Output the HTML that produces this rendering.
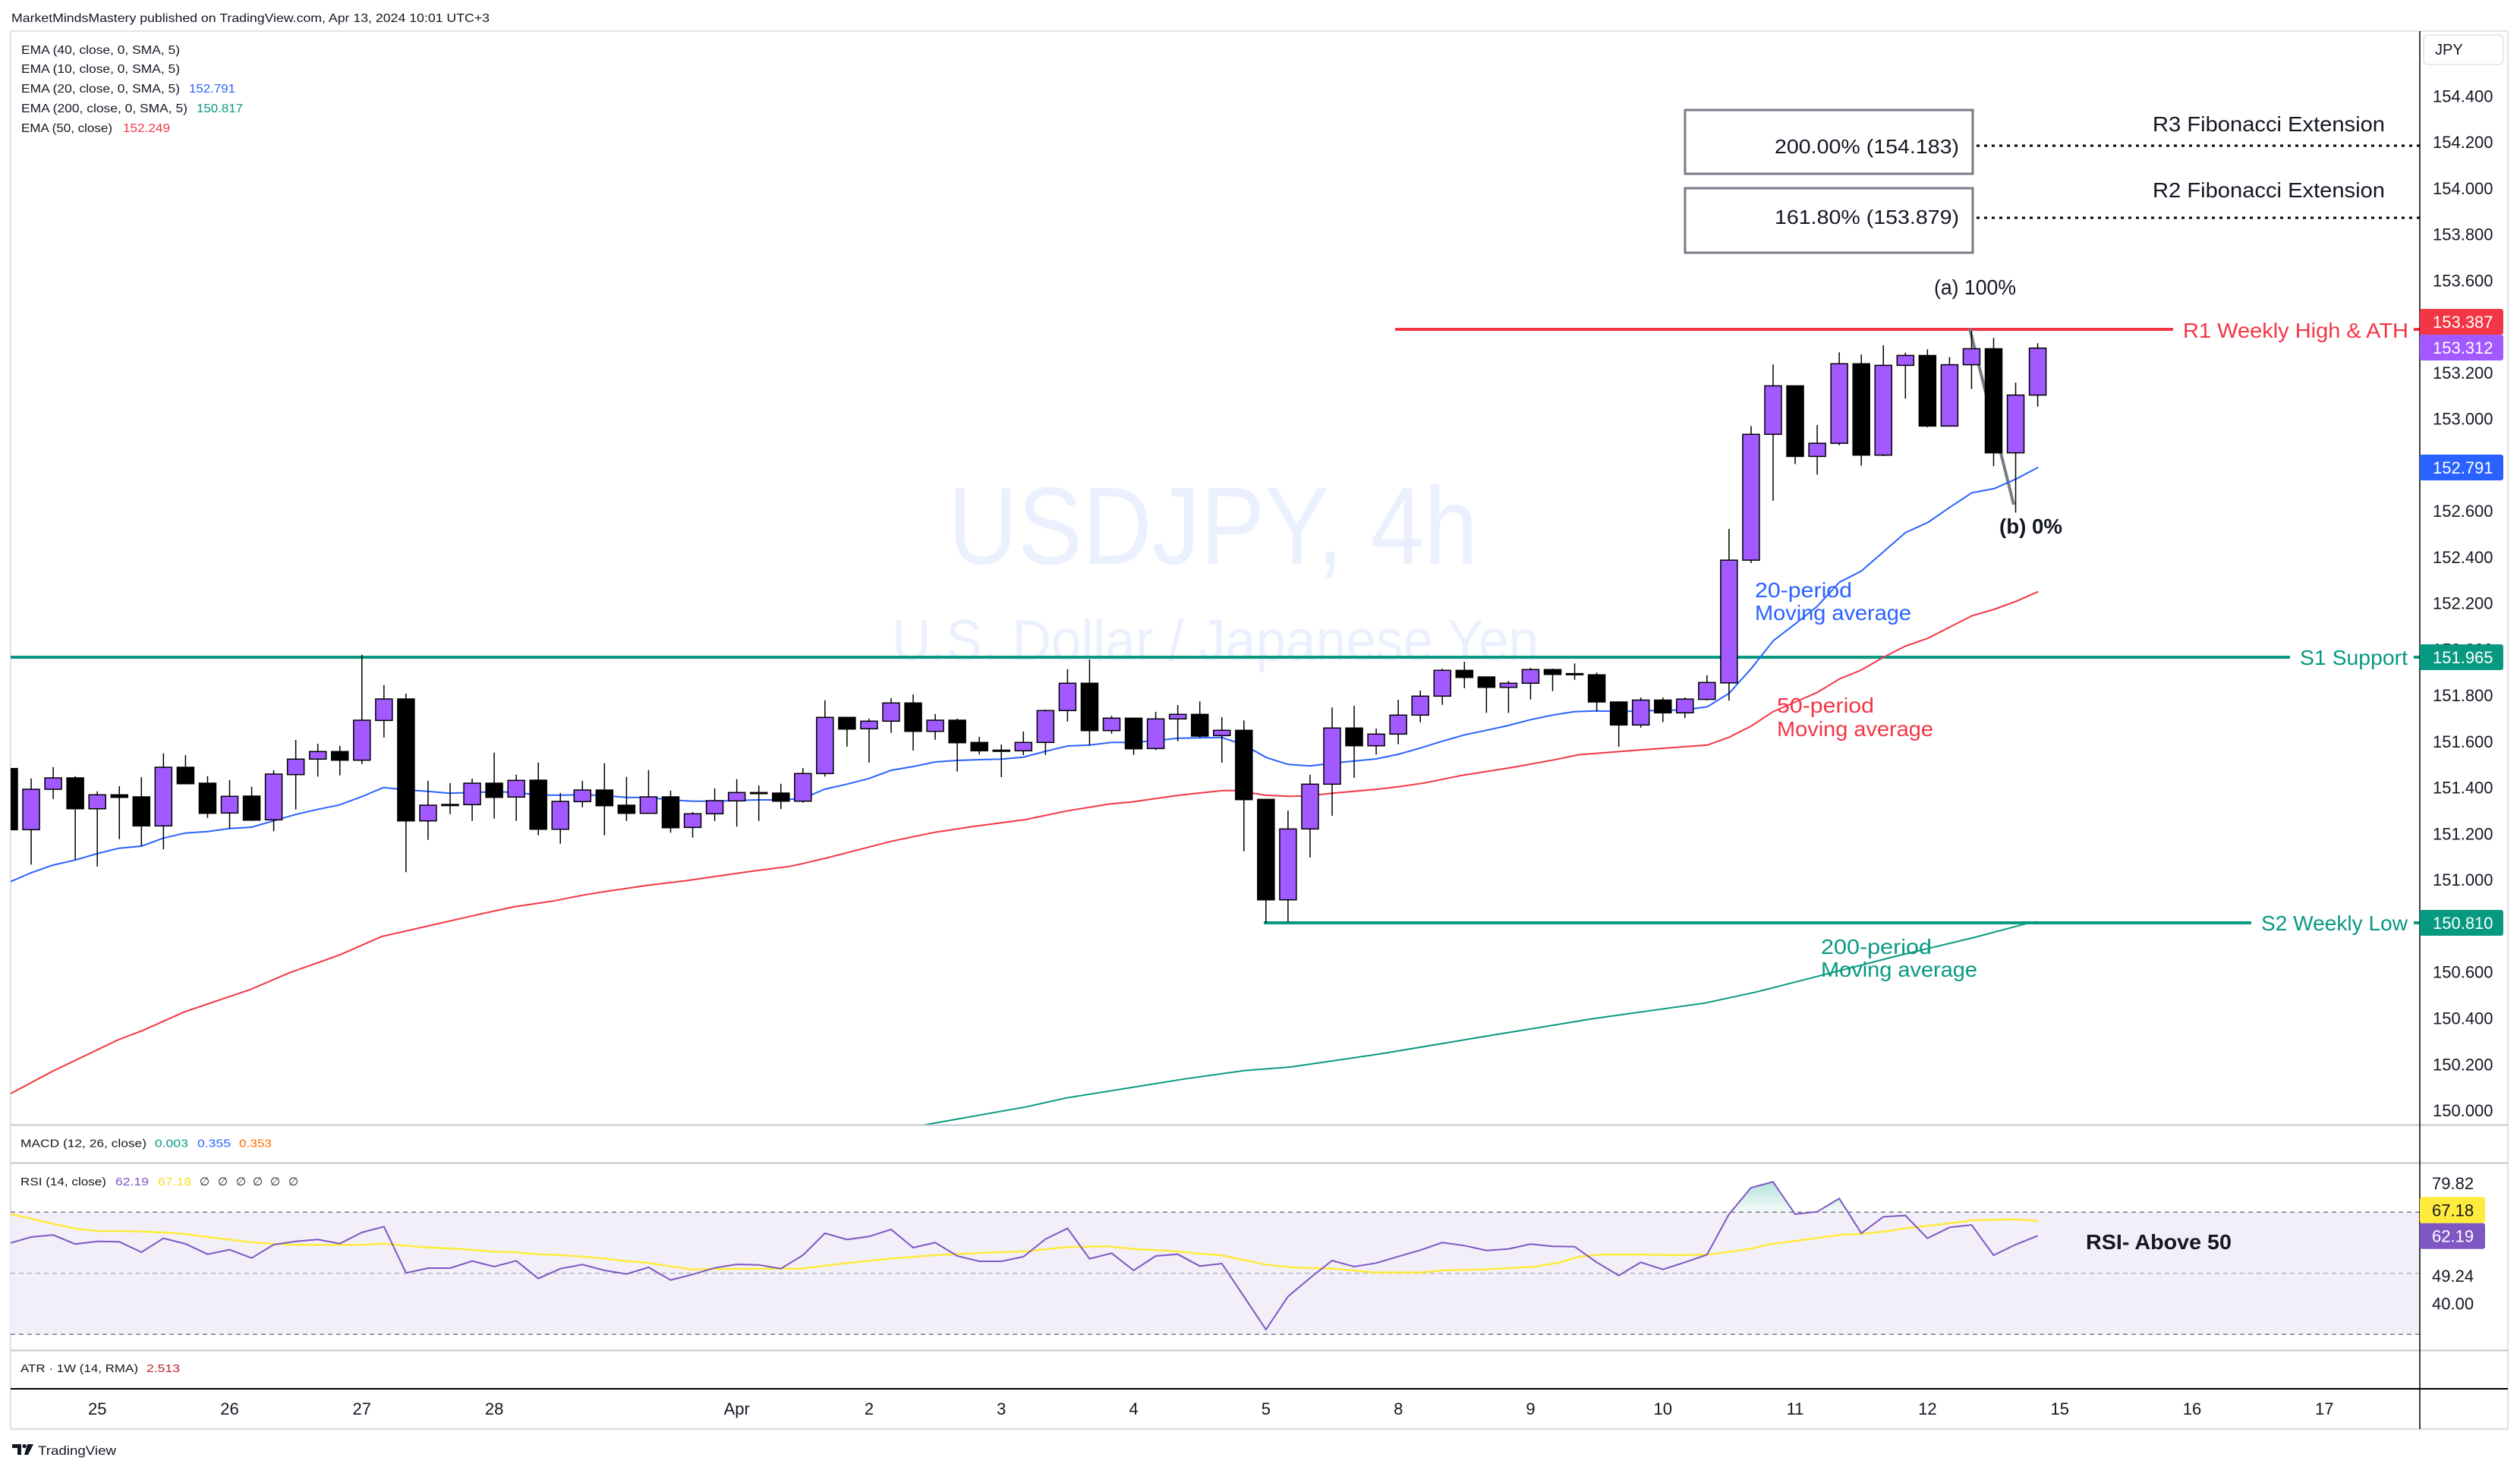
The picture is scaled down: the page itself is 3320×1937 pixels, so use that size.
<!DOCTYPE html>
<html><head><meta charset="utf-8"><style>
html,body{margin:0;padding:0;background:#fff;}
svg{display:block;}
text{font-family:"Liberation Sans","DejaVu Sans",sans-serif;fill:#131722;}
.p{fill:#a259ff;stroke:#000;stroke-width:1.5}
.b{fill:#000;stroke:#000;stroke-width:1.5}
.ax{font-size:22px}
</style></head><body>
<svg width="3320" height="1937" viewBox="0 0 3320 1937" xmlns="http://www.w3.org/2000/svg">
<defs>
<clipPath id="plot"><rect x="14" y="41" width="3174" height="1441"/></clipPath>
<clipPath id="rsi"><rect x="14" y="1533" width="3174" height="246"/></clipPath>
<linearGradient id="gf" gradientUnits="userSpaceOnUse" x1="0" y1="1557" x2="0" y2="1597">
<stop offset="0" stop-color="#089981" stop-opacity="0.3"/><stop offset="1" stop-color="#089981" stop-opacity="0.04"/></linearGradient>
</defs>
<rect width="3320" height="1937" fill="#fff"/>
<text x="15" y="29" font-size="16" textLength="630" lengthAdjust="spacingAndGlyphs">MarketMindsMastery published on TradingView.com, Apr 13, 2024 10:01 UTC+3</text>

<!-- frame -->
<rect x="14" y="41" width="3290" height="1842" fill="none" stroke="#e0e3eb" stroke-width="2"/>

<!-- watermark -->
<text x="1249" y="743" font-size="145" textLength="698" lengthAdjust="spacingAndGlyphs" style="fill:#ebf0fe">USDJPY, 4h</text>
<text x="1175" y="870" font-size="76" textLength="852" lengthAdjust="spacingAndGlyphs" style="fill:#ebf0fe">U.S. Dollar / Japanese Yen</text>

<!-- legends -->
<g font-size="16">
<text x="28" y="71" textLength="209" lengthAdjust="spacingAndGlyphs">EMA (40, close, 0, SMA, 5)</text>
<text x="28" y="96" textLength="209" lengthAdjust="spacingAndGlyphs">EMA (10, close, 0, SMA, 5)</text>
<text x="28" y="122" textLength="209" lengthAdjust="spacingAndGlyphs">EMA (20, close, 0, SMA, 5)</text>
<text x="249" y="122" textLength="61" lengthAdjust="spacingAndGlyphs" style="fill:#2962ff">152.791</text>
<text x="28" y="148" textLength="219" lengthAdjust="spacingAndGlyphs">EMA (200, close, 0, SMA, 5)</text>
<text x="259" y="148" textLength="61" lengthAdjust="spacingAndGlyphs" style="fill:#089981">150.817</text>
<text x="28" y="174" textLength="120" lengthAdjust="spacingAndGlyphs">EMA (50, close)</text>
<text x="162" y="174" textLength="62" lengthAdjust="spacingAndGlyphs" style="fill:#f23645">152.249</text>
</g>

<g clip-path="url(#plot)">
<!-- lines S/R -->
<line x1="14" y1="866" x2="3017" y2="866" stroke="#089981" stroke-width="4"/>
<line x1="1665" y1="1216" x2="2966" y2="1216" stroke="#089981" stroke-width="4"/>
<line x1="1838" y1="434" x2="2863" y2="434" stroke="#f23645" stroke-width="4"/>
<!-- fib trend line -->
<line x1="2595" y1="433" x2="2653" y2="665" stroke="#787b86" stroke-width="4"/>
<!-- EMAs -->
<polyline fill="none" stroke="#089981" stroke-width="2" points="1208,1484 1353,1458.3 1405,1446.7 1561,1421.7 1639,1410.7 1700,1406 1821.3,1388.3 1960,1365 2099,1342.3 2246.3,1321.7 2315.7,1306.7 2393.8,1286.7 2497.8,1260 2602,1235 2671,1216.7 2685,1214.5"/>
<polyline fill="none" stroke="#f23645" stroke-width="2" points="14,1441 69,1411.7 156,1370 187,1358.3 243,1333.3 329.6,1304 381.6,1281.7 447.5,1258.3 503,1234 569,1219 620,1207.3 676.4,1195 728.5,1187.3 769.2,1179.3 795.8,1175 852.1,1166.7 901.9,1160.7 941.6,1155 988.7,1148.3 1039.8,1141.7 1056,1138.3 1091.2,1130 1175.4,1108.3 1231.5,1096.7 1280.6,1089.3 1350.8,1080 1406.9,1068.3 1463,1059.3 1491,1056.7 1554.2,1047.7 1610.3,1041.7 1627.9,1041.7 1666.4,1047.7 1698,1049.3 1722.6,1048.7 1757.6,1045 1813.8,1040 1841.8,1036.7 1876.9,1031.7 1926,1021.7 1989.1,1011.7 2045.2,1001.7 2080,994.5 2161.6,988.1 2249.4,981.8 2278.4,971.3 2307.3,956.6 2336.3,937.6 2365.3,925 2394.3,912.4 2423.3,894.7 2452.2,882.9 2481.2,866.1 2510.2,851.4 2540.4,840.8 2569,826.1 2598,811.4 2627,803 2656,792.4 2685.3,779.5"/>
<polyline fill="none" stroke="#2962ff" stroke-width="2" points="14,1161.7 41,1150 69.6,1140 98.8,1133.3 127.3,1125 156.5,1117.7 186.3,1115 215.5,1104.3 244,1097.7 273.2,1095.7 302.4,1091.7 331.6,1090 360,1081.7 389.3,1073.3 417.8,1066.7 447,1060.7 476,1050 505.3,1037.7 534.5,1040.7 563.7,1042.7 592.2,1045.3 621.4,1044.3 650.5,1043.3 679.7,1044 708.9,1047.7 738,1047.7 767.2,1047.3 796.4,1048.3 825,1050.7 854,1050.7 883.3,1054 912.5,1055.7 941,1055.7 970,1054.7 999.3,1054 1028.5,1054 1057.5,1052.3 1086.3,1040 1115.7,1033.3 1145.2,1025.7 1174,1015 1203.4,1010 1232.2,1004 1261,1002 1290.4,1001 1319.2,1000.3 1348,997.7 1377.4,990 1406.2,983 1435.6,981.7 1464.4,978.3 1493.2,978.3 1522.6,976 1551.4,972.7 1580.2,972.3 1609.6,971.7 1639,981.7 1668.5,998.3 1697.3,1007.3 1726,1009.3 1755.5,1005.7 1784.3,1002.7 1813,1000 1841.8,994 1871.3,985.7 1900,976.7 1929.5,968.3 1958.3,962.3 1987,956 2016.5,948.3 2045.2,942.3 2074,937.7 2103.6,936.8 2132.6,937.5 2161.6,936.8 2190.7,936 2218.8,935.5 2249.4,931.3 2278.4,913.2 2307.3,880.8 2336.3,844.2 2365.3,821.9 2394.3,798.8 2423.3,767.2 2452.2,752.5 2481.2,727.2 2510.2,702 2540.4,688.1 2569,668.3 2598,649.3 2627,643.9 2656,631.2 2685.3,615.7"/>

<!-- wicks -->
<path fill="none" stroke="#000" stroke-width="1.5" d="M12 1008V1098M41.05 1025.7V1139.3M70.1 1010.7V1052.7M99.15 1022.7V1133.3M128.2 1042.7V1141.7M157.25 1036V1105.7M186.3 1024V1115M215.35 992.7V1119.3M244.4 995V1033.3M273.45 1022.7V1077.7M302.5 1028V1091.7M331.55 1036.7V1081.7M360.6 1015V1095.3M389.65 975V1066.7M418.7 980V1023.3M447.75 982.7V1021.7M476.8 862.7V1006.7M505.85 902.7V971.7M534.9 914V1149.3M563.95 1028.7V1106.7M593 1031.7V1072.7M622.05 1026V1081.7M651.1 991.7V1078.7M680.15 1020.7V1081.7M709.2 1004.7V1100.7M738.25 1045V1111.7M767.3 1028.7V1063.7M796.35 1005.7V1100.7M825.4 1023.7V1081.7M854.45 1014.7V1071.7M883.5 1041.7V1097.3M912.55 1070V1103.7M941.6 1038.7V1081.7M970.65 1026.7V1089.3M999.7 1035V1081.7M1028.75 1032.7V1066M1057.8 1012V1057.7M1086.85 922.7V1023.3M1115.9 945.3V984M1144.95 947V1005M1174 920V965.7M1203.05 915V989M1232.1 940.7V974.7M1261.15 946.7V1016.7M1290.2 971V994.3M1319.25 981V1024M1348.3 964V995M1377.35 935V994.7M1406.4 881.7V950.7M1435.45 869V982.3M1464.5 943.3V966.7M1493.55 946.3V994.7M1522.6 938V988.3M1551.65 929V976.7M1580.7 924.3V972.3M1609.75 945V1005M1638.8 949.3V1121.7M1667.85 1053.3V1216M1696.9 1068V1215M1725.95 1021V1130M1755 932.3V1075M1784.05 930V1025M1813.1 960V994.3M1842.15 922V980.7M1871.2 910V951.7M1900.25 881V928.7M1929.3 872V906.7M1958.35 892V939.3M1987.4 897.3V939.3M2016.45 880V921.7M2045.5 881V910.7M2074.55 874.3V895.7M2103.6 886.3V937.6M2132.65 925V984M2161.7 919.1V958.7M2190.75 919.1V951.5M2219.8 919.1V946M2248.85 889.7V922.9M2277.9 696.9V923.3M2306.95 561.4V741.9M2336 480.2V659.9M2365.05 508.4V611.5M2394.1 560.1V625.4M2423.15 464.2V586.6M2452.2 467.1V613.6M2481.25 454.9V601M2510.3 464.6V525.2M2539.35 460.4V563.1M2568.4 470.5V561.4M2597.45 436V512.6M2626.5 445.2V614.4M2655.55 504.1V675.4M2684.6 452.4V535.7"/>
<!-- bodies -->
<rect class="b" x="1" y="1012.7" width="22" height="80.6"/>
<rect class="p" x="30.05" y="1040" width="22" height="53.3"/>
<rect class="p" x="59.1" y="1025" width="22" height="15"/>
<rect class="b" x="88.15" y="1025" width="22" height="40.7"/>
<rect class="p" x="117.2" y="1047.3" width="22" height="18.4"/>
<rect class="b" x="146.25" y="1047.3" width="22" height="3.4"/>
<rect class="b" x="175.3" y="1050" width="22" height="38.3"/>
<rect class="p" x="204.35" y="1011" width="22" height="77.3"/>
<rect class="b" x="233.4" y="1011" width="22" height="21.7"/>
<rect class="b" x="262.45" y="1032" width="22" height="39.7"/>
<rect class="p" x="291.5" y="1049.3" width="22" height="22"/>
<rect class="b" x="320.55" y="1049" width="22" height="31.7"/>
<rect class="p" x="349.6" y="1020" width="22" height="60.3"/>
<rect class="p" x="378.65" y="1000.3" width="22" height="20.4"/>
<rect class="p" x="407.7" y="990.3" width="22" height="10"/>
<rect class="b" x="436.75" y="990.3" width="22" height="11.4"/>
<rect class="p" x="465.8" y="949" width="22" height="52.7"/>
<rect class="p" x="494.85" y="921" width="22" height="28.3"/>
<rect class="b" x="523.9" y="921" width="22" height="160.7"/>
<rect class="p" x="552.95" y="1061" width="22" height="20.7"/>
<rect class="b" x="582" y="1060" width="22" height="1.5"/>
<rect class="p" x="611.05" y="1032" width="22" height="28.3"/>
<rect class="b" x="640.1" y="1032" width="22" height="18.7"/>
<rect class="p" x="669.15" y="1028.3" width="22" height="22"/>
<rect class="b" x="698.2" y="1028" width="22" height="64.7"/>
<rect class="p" x="727.25" y="1056" width="22" height="36.7"/>
<rect class="p" x="756.3" y="1041" width="22" height="15.3"/>
<rect class="b" x="785.35" y="1041" width="22" height="20.7"/>
<rect class="b" x="814.4" y="1061" width="22" height="10.7"/>
<rect class="p" x="843.45" y="1050" width="22" height="21.7"/>
<rect class="b" x="872.5" y="1050" width="22" height="40.7"/>
<rect class="p" x="901.55" y="1072.3" width="22" height="18"/>
<rect class="p" x="930.6" y="1055" width="22" height="17.3"/>
<rect class="p" x="959.65" y="1044.3" width="22" height="11"/>
<rect class="b" x="988.7" y="1044.3" width="22" height="1.5"/>
<rect class="b" x="1017.75" y="1045" width="22" height="10.7"/>
<rect class="p" x="1046.8" y="1019.3" width="22" height="36.4"/>
<rect class="p" x="1075.85" y="945.3" width="22" height="74"/>
<rect class="b" x="1104.9" y="945.3" width="22" height="15.4"/>
<rect class="p" x="1133.95" y="950.3" width="22" height="10"/>
<rect class="p" x="1163" y="926.3" width="22" height="24"/>
<rect class="b" x="1192.05" y="926.3" width="22" height="37.4"/>
<rect class="p" x="1221.1" y="949" width="22" height="14.7"/>
<rect class="b" x="1250.15" y="949" width="22" height="29.7"/>
<rect class="b" x="1279.2" y="978.3" width="22" height="11"/>
<rect class="b" x="1308.25" y="988.5" width="22" height="1.5"/>
<rect class="p" x="1337.3" y="978.3" width="22" height="11"/>
<rect class="p" x="1366.35" y="936.3" width="22" height="42"/>
<rect class="p" x="1395.4" y="900.3" width="22" height="36"/>
<rect class="b" x="1424.45" y="900.3" width="22" height="62.4"/>
<rect class="p" x="1453.5" y="946.3" width="22" height="16.4"/>
<rect class="b" x="1482.55" y="946.3" width="22" height="40.4"/>
<rect class="p" x="1511.6" y="947.3" width="22" height="39"/>
<rect class="p" x="1540.65" y="941.3" width="22" height="6"/>
<rect class="b" x="1569.7" y="941.3" width="22" height="28.7"/>
<rect class="p" x="1598.75" y="962.3" width="22" height="7"/>
<rect class="b" x="1627.8" y="962.3" width="22" height="91.4"/>
<rect class="b" x="1656.85" y="1053.3" width="22" height="132.4"/>
<rect class="p" x="1685.9" y="1092.3" width="22" height="93.4"/>
<rect class="p" x="1714.95" y="1033.3" width="22" height="59"/>
<rect class="p" x="1744" y="959.3" width="22" height="74"/>
<rect class="b" x="1773.05" y="959.3" width="22" height="23.4"/>
<rect class="p" x="1802.1" y="967.3" width="22" height="15.4"/>
<rect class="p" x="1831.15" y="942.3" width="22" height="25"/>
<rect class="p" x="1860.2" y="917.3" width="22" height="25"/>
<rect class="p" x="1889.25" y="883.3" width="22" height="34"/>
<rect class="b" x="1918.3" y="883.3" width="22" height="9.4"/>
<rect class="b" x="1947.35" y="892" width="22" height="13.7"/>
<rect class="p" x="1976.4" y="900.3" width="22" height="5.4"/>
<rect class="p" x="2005.45" y="882.3" width="22" height="18"/>
<rect class="b" x="2034.5" y="882.3" width="22" height="6.4"/>
<rect class="b" x="2063.55" y="887.6" width="22" height="1.5"/>
<rect class="b" x="2092.6" y="889.2" width="22" height="35.8"/>
<rect class="b" x="2121.65" y="925" width="22" height="30.3"/>
<rect class="p" x="2150.7" y="922.5" width="22" height="32.8"/>
<rect class="b" x="2179.75" y="922.5" width="22" height="16.8"/>
<rect class="p" x="2208.8" y="921.2" width="22" height="18.1"/>
<rect class="p" x="2237.85" y="899.3" width="22" height="22.3"/>
<rect class="p" x="2266.9" y="738.1" width="22" height="161.7"/>
<rect class="p" x="2295.95" y="572.3" width="22" height="165.8"/>
<rect class="p" x="2325" y="508.4" width="22" height="63.9"/>
<rect class="b" x="2354.05" y="508.4" width="22" height="93"/>
<rect class="p" x="2383.1" y="584.1" width="22" height="17.3"/>
<rect class="p" x="2412.15" y="479.3" width="22" height="104.8"/>
<rect class="b" x="2441.2" y="479.3" width="22" height="120.4"/>
<rect class="p" x="2470.25" y="481.4" width="22" height="118.3"/>
<rect class="p" x="2499.3" y="468.4" width="22" height="13"/>
<rect class="b" x="2528.35" y="468.4" width="22" height="93"/>
<rect class="p" x="2557.4" y="480.6" width="22" height="80.8"/>
<rect class="p" x="2586.45" y="459.5" width="22" height="21.1"/>
<rect class="b" x="2615.5" y="459.5" width="22" height="137.2"/>
<rect class="p" x="2644.55" y="520.6" width="22" height="76.1"/>
<rect class="p" x="2673.6" y="458.7" width="22" height="61.9"/>

<!-- fib boxes and dotted lines -->
<rect x="2220" y="145" width="379" height="84" fill="#fff" stroke="#787b86" stroke-width="3"/>
<rect x="2220" y="248" width="379" height="85" fill="#fff" stroke="#787b86" stroke-width="3"/>
<line x1="2604" y1="192" x2="3188" y2="192" stroke="#000" stroke-width="3" stroke-dasharray="4 6"/>
<line x1="2604" y1="287" x2="3188" y2="287" stroke="#000" stroke-width="3" stroke-dasharray="4 6"/>
</g>

<!-- annotation texts -->
<g font-size="26">
<text x="2338" y="202" textLength="243" lengthAdjust="spacingAndGlyphs">200.00% (154.183)</text>
<text x="2338" y="295" textLength="243" lengthAdjust="spacingAndGlyphs">161.80% (153.879)</text>
</g>
<g font-size="28">
<text x="2836" y="173" textLength="306" lengthAdjust="spacingAndGlyphs">R3 Fibonacci Extension</text>
<text x="2836" y="260" textLength="306" lengthAdjust="spacingAndGlyphs">R2 Fibonacci Extension</text>
<text x="2548" y="388" textLength="108" lengthAdjust="spacingAndGlyphs">(a) 100%</text>
<text x="2876" y="445" textLength="297" lengthAdjust="spacingAndGlyphs" style="fill:#f23645">R1 Weekly High &amp; ATH</text>
<text x="2634" y="703" textLength="83" lengthAdjust="spacingAndGlyphs" font-weight="bold">(b) 0%</text>
<text x="2312" y="787" textLength="128" lengthAdjust="spacingAndGlyphs" style="fill:#2962ff">20-period</text>
<text x="2312" y="817" textLength="206" lengthAdjust="spacingAndGlyphs" style="fill:#2962ff">Moving average</text>
<text x="2341" y="939" textLength="128" lengthAdjust="spacingAndGlyphs" style="fill:#f23645">50-period</text>
<text x="2341" y="970" textLength="206" lengthAdjust="spacingAndGlyphs" style="fill:#f23645">Moving average</text>
<text x="2399" y="1257" textLength="146" lengthAdjust="spacingAndGlyphs" style="fill:#089981">200-period</text>
<text x="2399" y="1287" textLength="206" lengthAdjust="spacingAndGlyphs" style="fill:#089981">Moving average</text>
<text x="3030" y="876" textLength="142" lengthAdjust="spacingAndGlyphs" style="fill:#089981">S1 Support</text>
<text x="2979" y="1226" textLength="193" lengthAdjust="spacingAndGlyphs" style="fill:#089981">S2 Weekly Low</text>
</g>
<line x1="3180" y1="434" x2="3188" y2="434" stroke="#f23645" stroke-width="4"/>
<line x1="3180" y1="866" x2="3188" y2="866" stroke="#089981" stroke-width="4"/>
<line x1="3180" y1="1216" x2="3188" y2="1216" stroke="#089981" stroke-width="4"/>

<!-- pane separators -->
<line x1="14" y1="1482.5" x2="3304" y2="1482.5" stroke="#c3c5cc" stroke-width="2"/>
<line x1="14" y1="1532.5" x2="3304" y2="1532.5" stroke="#c3c5cc" stroke-width="2"/>
<line x1="14" y1="1779.5" x2="3304" y2="1779.5" stroke="#c3c5cc" stroke-width="2"/>
<line x1="14" y1="1830" x2="3304" y2="1830" stroke="#000" stroke-width="2"/>
<line x1="14" y1="1883" x2="3304" y2="1883" stroke="#e0e3eb" stroke-width="3"/>

<!-- RSI pane -->
<rect x="14" y="1597.3" width="3174" height="161" fill="#f2eff9"/>
<line x1="14" y1="1597.3" x2="3188" y2="1597.3" stroke="#787b86" stroke-width="1.5" stroke-dasharray="6 5"/>
<line x1="14" y1="1677.7" x2="3188" y2="1677.7" stroke="#b2b5be" stroke-width="1.5" stroke-dasharray="6 5"/>
<line x1="14" y1="1758.3" x2="3188" y2="1758.3" stroke="#787b86" stroke-width="1.5" stroke-dasharray="6 5"/>
<g clip-path="url(#rsi)">
<polygon fill="url(#gf)" points="2280.1,1597.3 2306.95,1565 2336,1557.3 2363.2,1597.3"/>
<polygon fill="url(#gf)" points="2388.8,1597.3 2394.1,1596.7 2423.15,1579.3 2434.6,1597.3"/>
<polyline fill="none" stroke="#ffeb3b" stroke-width="2.5" points="14,1600 38.3,1605 70.2,1612.7 98.2,1618.7 127.6,1622 156.3,1622 185,1622.7 214.3,1624 242.3,1625.7 273,1630 301,1633.3 330.4,1636.7 361,1639.3 389,1640.3 417.7,1640.3 446.4,1640.3 475.8,1640.3 505,1638.7 534.4,1641.3 562.5,1643.7 591.8,1645 620.5,1646.7 649.2,1649.3 678.6,1650 708,1652.7 737.2,1653.7 766.6,1655.7 795.3,1658.3 825.3,1661.7 853.3,1664 884,1668.7 912,1672.7 940.7,1672 969.4,1672 1000,1671.7 1054.8,1671.7 1109.7,1665 1175.5,1658.3 1230.4,1654 1296.2,1650.7 1351,1648.7 1405.9,1643.3 1460.7,1642.3 1493.6,1645.7 1548.5,1648.7 1581.4,1652 1608.8,1654 1669.2,1666.7 1702,1670 1756.9,1671.7 1811.8,1676.7 1872.1,1676.7 1899.5,1674 1954.4,1672.7 2020.2,1669.3 2053.1,1664 2080.5,1656 2108,1653.3 2162.8,1653.3 2206.7,1653.7 2250.5,1653.3 2305.4,1645.7 2332.8,1639.3 2387.7,1632.3 2423.9,1627.3 2453.5,1625.7 2483.1,1622.7 2511.6,1618.3 2570.8,1611.7 2599.4,1607.7 2626.8,1607.3 2656.4,1606.7 2684.9,1608.7"/>
<polyline fill="none" stroke="#7e57c2" stroke-width="2" points="12,1638.3 41.05,1630 70.1,1627.3 99.15,1639.3 128.2,1635.7 157.25,1636.3 186.3,1650 215.35,1631.7 244.4,1639 273.45,1652.7 302.5,1646.7 331.55,1657.7 360.6,1640 389.65,1635.7 418.7,1633.3 447.75,1638.7 476.8,1624 505.85,1616.3 534.9,1677.3 563.95,1671 593,1671 622.05,1661.7 651.1,1669 680.15,1661.3 709.2,1684.7 738.25,1671.7 767.3,1666.3 796.35,1674 825.4,1678.7 854.45,1670 883.5,1686.7 912.55,1679.3 941.6,1670.7 970.65,1666 999.7,1666.7 1028.75,1671.7 1057.8,1654 1086.85,1625 1115.9,1633.3 1144.95,1629.3 1174,1620 1203.05,1644 1232.1,1637.3 1261.15,1655 1290.2,1662 1319.25,1662 1348.3,1656 1377.35,1632.7 1406.4,1618.7 1435.45,1658.7 1464.5,1651.3 1493.55,1674 1522.6,1655 1551.65,1652.7 1580.7,1668.3 1609.75,1665 1638.8,1708.3 1667.85,1752 1696.9,1708.3 1725.95,1684 1755,1661 1784.05,1669 1813.1,1664.3 1842.15,1655.7 1871.2,1647.3 1900.25,1637.3 1929.3,1641.3 1958.35,1647.7 1987.4,1645.7 2016.45,1639.3 2045.5,1642.3 2074.55,1642.7 2103.6,1663.3 2132.65,1680.7 2161.7,1663.3 2190.75,1672.7 2219.8,1663.3 2248.85,1653.3 2277.9,1600 2306.95,1565 2336,1557.3 2365.05,1600 2394.1,1596.7 2423.15,1579.3 2452.2,1625 2481.25,1603.3 2510.3,1601.7 2539.35,1631.7 2568.4,1617.3 2597.45,1614 2626.5,1654 2655.55,1640 2684.6,1628.3"/>
</g>
<text x="2748" y="1646" font-size="28" font-weight="bold" textLength="192" lengthAdjust="spacingAndGlyphs">RSI- Above 50</text>

<!-- pane legends -->
<g font-size="15">
<text x="27" y="1511.5" textLength="166" lengthAdjust="spacingAndGlyphs">MACD (12, 26, close)</text>
<text x="204" y="1511.5" textLength="44" lengthAdjust="spacingAndGlyphs" style="fill:#089981">0.003</text>
<text x="260" y="1511.5" textLength="44" lengthAdjust="spacingAndGlyphs" style="fill:#2962ff">0.355</text>
<text x="315" y="1511.5" textLength="43" lengthAdjust="spacingAndGlyphs" style="fill:#ff6d00">0.353</text>
<text x="27" y="1562" textLength="113" lengthAdjust="spacingAndGlyphs">RSI (14, close)</text>
<text x="152" y="1562" textLength="44" lengthAdjust="spacingAndGlyphs" style="fill:#7e57c2">62.19</text>
<text x="208" y="1562" textLength="44" lengthAdjust="spacingAndGlyphs" style="fill:#f5dc2a">67.18</text>
<text x="263" y="1562" style="fill:#131722">∅</text>
<text x="287" y="1562" style="fill:#131722">∅</text>
<text x="311" y="1562" style="fill:#131722">∅</text>
<text x="333" y="1562" style="fill:#131722">∅</text>
<text x="356" y="1562" style="fill:#131722">∅</text>
<text x="380" y="1562" style="fill:#131722">∅</text>
<text x="27" y="1808" textLength="155" lengthAdjust="spacingAndGlyphs">ATR · 1W (14, RMA)</text>
<text x="193" y="1808" textLength="44" lengthAdjust="spacingAndGlyphs" style="fill:#c0262e">2.513</text>
</g>

<!-- price axis -->
<line x1="3188" y1="41" x2="3188" y2="1883" stroke="#000" stroke-width="1.5"/>
<rect x="3193" y="46" width="105" height="39" rx="6" fill="#fff" stroke="#e0e3eb" stroke-width="1.5"/>
<text x="3208" y="72" font-size="20">JPY</text>
<g class="ax" font-size="22">
<text x="3205" y="134.3">154.400</text>
<text x="3205" y="195">154.200</text>
<text x="3205" y="255.8">154.000</text>
<text x="3205" y="316.5">153.800</text>
<text x="3205" y="377.3">153.600</text>
<text x="3205" y="498.8">153.200</text>
<text x="3205" y="559.6">153.000</text>
<text x="3205" y="681.1">152.600</text>
<text x="3205" y="741.8">152.400</text>
<text x="3205" y="802.6">152.200</text>
<text x="3205" y="863.4">152.000</text>
<text x="3205" y="924.1">151.800</text>
<text x="3205" y="984.9">151.600</text>
<text x="3205" y="1045.6">151.400</text>
<text x="3205" y="1106.4">151.200</text>
<text x="3205" y="1167.2">151.000</text>
<text x="3205" y="1288.7">150.600</text>
<text x="3205" y="1349.5">150.400</text>
<text x="3205" y="1410.3">150.200</text>
<text x="3205" y="1471">150.000</text>
</g>
<rect x="3188" y="407" width="110" height="34" rx="3" fill="#f23645"/>
<text x="3205" y="432" font-size="22" style="fill:#fff">153.387</text>
<rect x="3188" y="441" width="110" height="34" rx="3" fill="#a259ff"/>
<text x="3205" y="466" font-size="22" style="fill:#fff">153.312</text>
<rect x="3188" y="599" width="110" height="34" rx="3" fill="#2962ff"/>
<text x="3205" y="624" font-size="22" style="fill:#fff">152.791</text>
<rect x="3188" y="849" width="110" height="34" rx="3" fill="#089981"/>
<text x="3205" y="874" font-size="22" style="fill:#fff">151.965</text>
<rect x="3188" y="1199" width="110" height="34" rx="3" fill="#089981"/>
<text x="3205" y="1224" font-size="22" style="fill:#fff">150.810</text>

<!-- RSI axis -->
<g font-size="22">
<text x="3204" y="1567">79.82</text>
<rect x="3188" y="1577.3" width="86" height="34.4" rx="3" fill="#ffeb3b"/>
<text x="3204" y="1602.5">67.18</text>
<rect x="3188" y="1611.7" width="86" height="34" rx="3" fill="#7e57c2"/>
<text x="3204" y="1636.7" style="fill:#fff">62.19</text>
<text x="3204" y="1689">49.24</text>
<text x="3204" y="1725.7">40.00</text>
</g>

<!-- time axis -->
<g font-size="22" text-anchor="middle">
<text x="128.2" y="1864">25</text>
<text x="302.5" y="1864">26</text>
<text x="476.8" y="1864">27</text>
<text x="651.1" y="1864">28</text>
<text x="970.7" y="1864">Apr</text>
<text x="1145" y="1864">2</text>
<text x="1319.3" y="1864">3</text>
<text x="1493.6" y="1864">4</text>
<text x="1667.9" y="1864">5</text>
<text x="1842.2" y="1864">8</text>
<text x="2016.5" y="1864">9</text>
<text x="2190.8" y="1864">10</text>
<text x="2365" y="1864">11</text>
<text x="2539.4" y="1864">12</text>
<text x="2713.7" y="1864">15</text>
<text x="2888" y="1864">16</text>
<text x="3062.3" y="1864">17</text>
</g>

<!-- logo -->
<path d="M16 1903h12v14h-5v-9h-7z" fill="#131722"/>
<circle cx="32" cy="1905.5" r="2.6" fill="#131722"/>
<path d="M36 1903h8l-7 14h-5z" fill="#131722"/>
<text x="50" y="1917" font-size="17" textLength="103" lengthAdjust="spacingAndGlyphs">TradingView</text>
</svg>
</body></html>
